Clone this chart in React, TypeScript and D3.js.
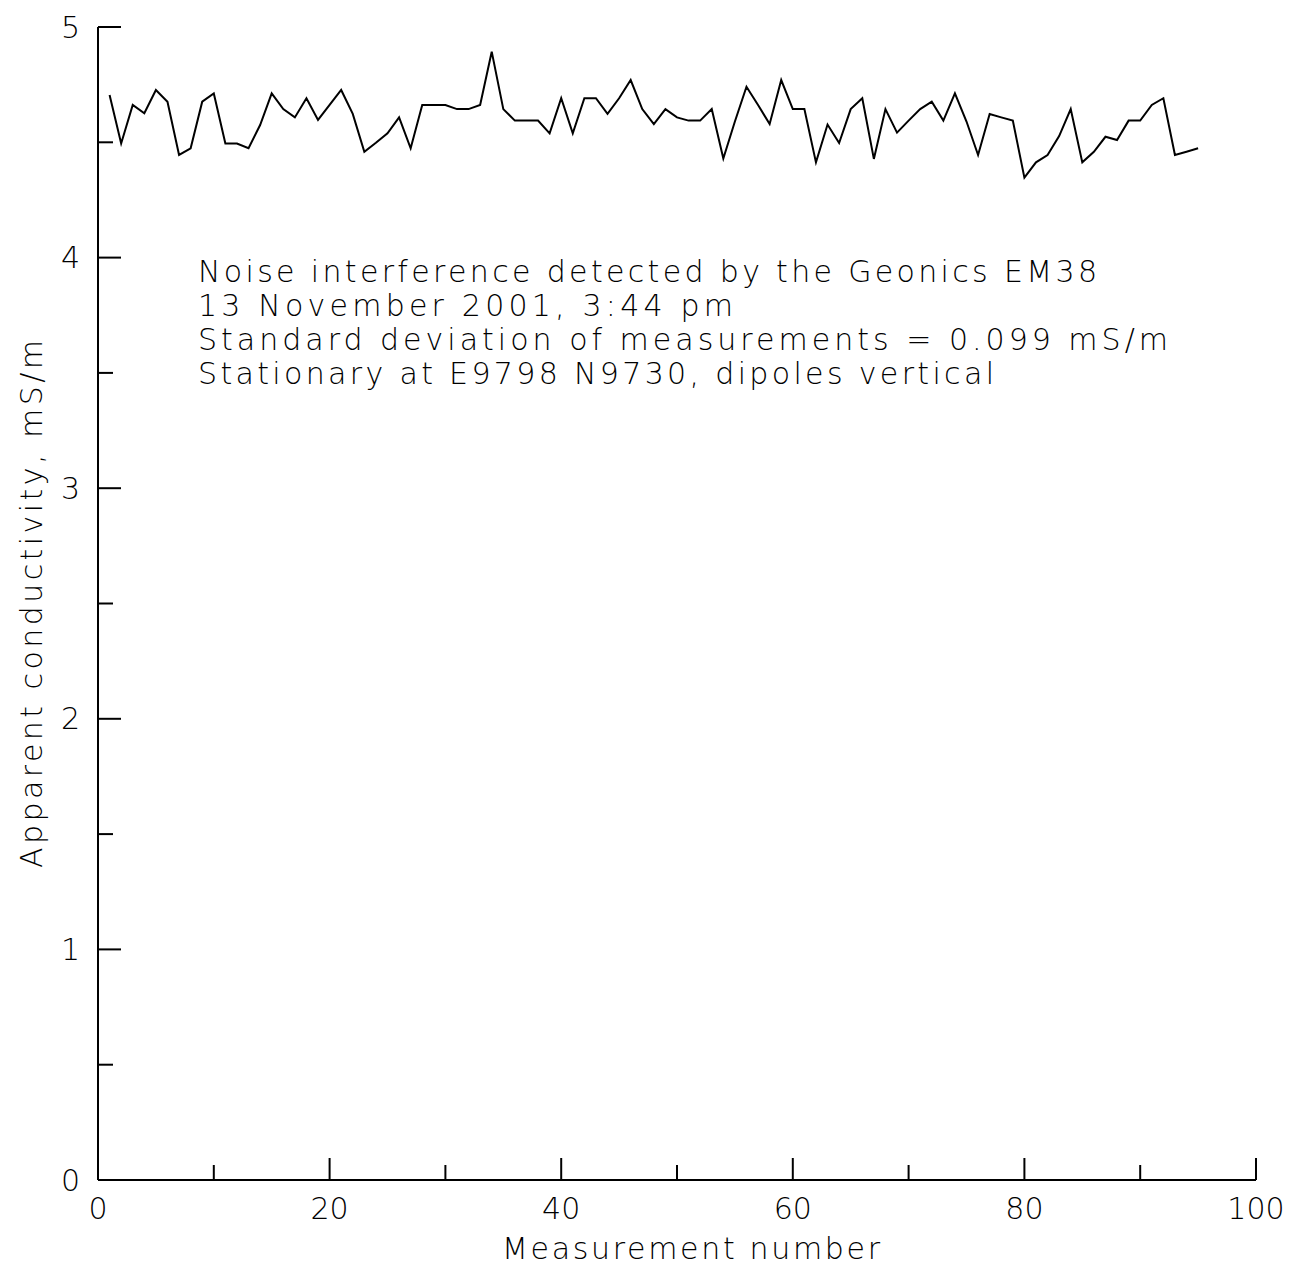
import React from "react";
import * as d3 from "d3";

const measurementNumbers: number[] = Array.from({ length: 95 }, (_, i) => i + 1);
const conductivity: number[] = [
  4.705, 4.495, 4.662, 4.626, 4.727, 4.676, 4.445, 4.474, 4.676, 4.712,
  4.495, 4.495, 4.474, 4.575, 4.712, 4.644, 4.608, 4.691, 4.597, 4.662,
  4.727, 4.623, 4.459, 4.498, 4.539, 4.608, 4.474, 4.662, 4.662, 4.662,
  4.644, 4.644, 4.662, 4.893, 4.644, 4.594, 4.594, 4.594, 4.539, 4.691,
  4.539, 4.691, 4.691, 4.623, 4.691, 4.770, 4.644, 4.579, 4.644, 4.608,
  4.594, 4.594, 4.644, 4.430, 4.590, 4.741, 4.662, 4.579, 4.770, 4.644,
  4.644, 4.413, 4.577, 4.497, 4.644, 4.691, 4.428, 4.644, 4.542, 4.594,
  4.644, 4.676, 4.594, 4.712, 4.590, 4.445, 4.623, 4.608, 4.594, 4.347,
  4.413, 4.445, 4.527, 4.644, 4.413, 4.459, 4.524, 4.510, 4.594, 4.594,
  4.662, 4.691, 4.445, 4.459, 4.474,
];
const xMajorTicks: number[] = [0, 20, 40, 60, 80, 100];
const xMinorTicks: number[] = [10, 30, 50, 70, 90];
const yMajorTicks: number[] = [0, 1, 2, 3, 4, 5];
const yMinorTicks: number[] = [0.5, 1.5, 2.5, 3.5, 4.5];
const annotationLines: string[] = [
  "Noise interference detected by the Geonics EM38",
  "13 November 2001, 3:44 pm",
  "Standard deviation of measurements = 0.099 mS/m",
  "Stationary at E9798 N9730, dipoles vertical",
];
const annotationWidths: number[] = [899, 535, 970, 796];
const xTitle = "Measurement number";
const yTitle = "Apparent conductivity, mS/m";

const W = 1299;
const H = 1266;
const FONT = "'DejaVu Sans', sans-serif";

export default function App() {
  const x = d3.scaleLinear().domain([0, 100]).range([98, 1256]);
  const y = d3.scaleLinear().domain([0, 5]).range([1180, 27]);
  const line = d3
    .line<number>()
    .x((_, i) => x(measurementNumbers[i]))
    .y((d) => y(d));
  const x0 = x(0);
  const y0 = y(0);
  const textStyle = { fontFamily: FONT, fontWeight: 200 as const, fill: "#000" };
  return (
    <svg
      width={W}
      height={H}
      style={{ position: "absolute", left: 0, top: 0, background: "#fff" }}
    >
      <rect x={0} y={0} width={W} height={H} fill="#fff" />
      {/* axes */}
      <line x1={x0} y1={y(5)} x2={x0} y2={y0} stroke="#000" strokeWidth={2} />
      <line x1={x0} y1={y0} x2={x(100)} y2={y0} stroke="#000" strokeWidth={2} />
      {yMajorTicks.map((t) => (
        <g key={"ym" + t}>
          <line x1={x0} x2={x0 + 23} y1={y(t)} y2={y(t)} stroke="#000" strokeWidth={2} />
          <text
            x={80}
            y={y(t)}
            textAnchor="end"
            dominantBaseline="central"
            fontSize={30}
            style={textStyle}
          >
            {t}
          </text>
        </g>
      ))}
      {yMinorTicks.map((t) => (
        <line key={"yn" + t} x1={x0} x2={x0 + 15} y1={y(t)} y2={y(t)} stroke="#000" strokeWidth={2} />
      ))}
      {xMajorTicks.map((t) => (
        <g key={"xm" + t}>
          <line x1={x(t)} x2={x(t)} y1={y0} y2={y0 - 22} stroke="#000" strokeWidth={2} />
          <text x={x(t)} y={1219} textAnchor="middle" fontSize={30} style={textStyle}>
            {t}
          </text>
        </g>
      ))}
      {xMinorTicks.map((t) => (
        <line key={"xn" + t} x1={x(t)} x2={x(t)} y1={y0} y2={y0 - 15} stroke="#000" strokeWidth={2} />
      ))}
      {/* data line */}
      <path d={line(conductivity) || ""} fill="none" stroke="#000" strokeWidth={2} strokeLinejoin="miter" />
      {/* annotation */}
      {annotationLines.map((s, i) => (
        <text
          key={i}
          x={198}
          y={282 + i * 34}
          fontSize={30}
          textLength={annotationWidths[i]}
          lengthAdjust="spacing"
          style={textStyle}
        >
          {s}
        </text>
      ))}
      {/* axis titles */}
      <text
        x={691}
        y={1259}
        textAnchor="middle"
        fontSize={30}
        textLength={378}
        lengthAdjust="spacing"
        style={textStyle}
      >
        {xTitle}
      </text>
      <text
        transform={`translate(42, ${604}) rotate(-90)`}
        textAnchor="middle"
        fontSize={30}
        textLength={528}
        lengthAdjust="spacing"
        style={textStyle}
      >
        {yTitle}
      </text>
    </svg>
  );
}
